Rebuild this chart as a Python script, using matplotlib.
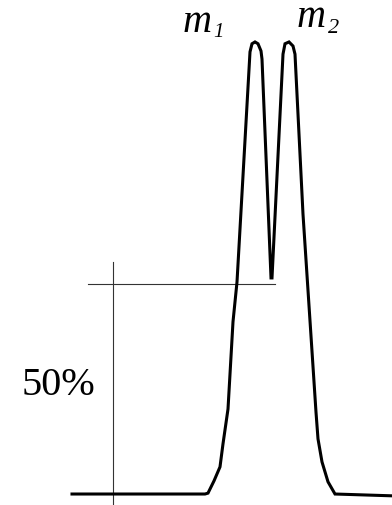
import matplotlib
matplotlib.use("Agg")
import matplotlib.pyplot as plt

# peak profile: position (arbitrary mass units) and intensity (%)
mass = [72, 205, 208, 214, 220, 223, 228, 233, 237, 250, 252, 255, 258, 261, 262,
        271, 272, 283, 285, 289, 293, 295, 303, 316, 318, 322, 328, 335, 392]
intensity = [0, 0, 0.2, 2.9, 6.0, 11.1, 18.8, 38.1, 46.9, 97.8, 99.6, 100, 99.6, 98.0, 96.2,
             47.8, 47.8, 97.3, 99.6, 100, 99.1, 97.3, 61.9, 18.1, 12.2, 7.1, 2.7, 0, -0.4]

half_level = 46.5
half_x = [88, 275]
marker_x = 113
marker_y = [-2.4, 51.3]

fig = plt.figure(figsize=(3.92, 5.06), dpi=100)
ax = fig.add_axes([0, 0, 1, 1])
ax.set_xlim(0, 392)
ax.set_ylim(-2.43, 109.5)
ax.axis("off")

ax.plot(half_x, [half_level, half_level], color="#333333", lw=0.8)
ax.plot([marker_x, marker_x], marker_y, color="#333333", lw=0.8)
ax.plot(mass, intensity, color="black", lw=2.2, solid_joinstyle="miter")

serif = "Liberation Serif"
ax.text(22, 22.1, "50%", family=serif, fontsize=29, va="baseline")
# peak labels, subscripts drawn as separate smaller texts
ax.text(183, 102.4, "m", family=serif, style="italic", fontsize=29, va="baseline")
ax.text(213, 101.3, "1", family=serif, style="italic", fontsize=15, va="baseline")
ax.text(297, 103.5, "m", family=serif, style="italic", fontsize=29, va="baseline")
ax.text(328, 102.2, "2", family=serif, style="italic", fontsize=16, va="baseline")

fig.savefig("out.png", dpi=100)
